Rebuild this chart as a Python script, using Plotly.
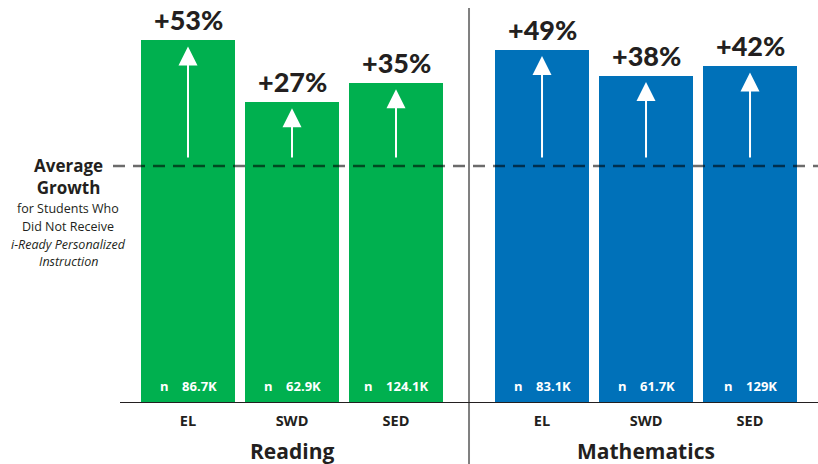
import plotly.graph_objects as go

# ---- data ----
subjects = ["Reading", "Mathematics"]
categories = ["EL", "SWD", "SED"]
reading_growth = [153, 127, 135]      # relative growth, average = 100
math_growth = [149, 138, 142]
reading_pct = ["+53%", "+27%", "+35%"]
math_pct = ["+49%", "+38%", "+42%"]
reading_n = ["86.7K", "62.9K", "124.1K"]
math_n = ["83.1K", "61.7K", "129K"]
average_growth = 100

GREEN = "#00b04f"
BLUE = "#0071b9"
DARK = "#231f20"

# layout constants
GROUP_GAP = 0.404          # extra spacing between groups (in bar-pitch units)
BAR_W = 0.904
PX_PER_UNIT_X = 104.0
PLOT_LEFT_PX = 120
FIG_W, FIG_H = 818, 464
PLOT_H = 403
Y_TOP = 170.04

groups = [
    (subjects[0], reading_growth, reading_pct, reading_n, GREEN),
    (subjects[1], math_growth, math_pct, math_n, BLUE),
]

fig = go.Figure()
tickvals, ticktext = [], []
annotations = []
shapes = []
group_centers = []
group_edges = []
for gi, (subj, vals, pcts, ns, color) in enumerate(groups):
    xs = [gi * (len(categories) + GROUP_GAP) + i for i in range(len(categories))]
    fig.add_trace(go.Bar(x=xs, y=vals, width=BAR_W, marker=dict(color=color, line=dict(width=0)),
                         hoverinfo="skip", showlegend=False))
    tickvals += xs
    ticktext += categories
    group_centers.append(sum(xs) / len(xs))
    group_edges.append((xs[0] - BAR_W / 2, xs[-1] + BAR_W / 2))
    for x, v, p, n in zip(xs, vals, pcts, ns):
        # percentage label above bar
        annotations.append(dict(x=x, y=v, xref="x", yref="y", text=p, showarrow=False,
                                yanchor="bottom", yshift=2,
                                font=dict(family="Lato", size=27, color=DARK, weight=900)))
        # n label inside bar bottom
        annotations.append(dict(x=x, y=0, xref="x", yref="y",
                                text="n\u00a0\u00a0\u00a0\u00a0" + n, showarrow=False,
                                yanchor="middle", yshift=17,
                                font=dict(family="Open Sans", size=13, color="white", weight=700)))
        # white growth arrow
        annotations.append(dict(x=x, y=v - 2.6, ax=x, ay=average_growth + 3, xref="x", yref="y",
                                axref="x", ayref="y", text="", showarrow=True,
                                arrowhead=2, arrowsize=1.9, arrowwidth=2, arrowcolor="white"))

# group titles
for subj, cx in zip(subjects, group_centers):
    annotations.append(dict(x=cx, y=0, xref="x", yref="paper", text="<b>" + subj + "</b>",
                            showarrow=False, yanchor="middle", yshift=-48,
                            font=dict(family="Open Sans", size=21, color=DARK)))

# left "Average Growth" label
left_lines = [
    ("<b>Average<br>Growth</b>", 17, "normal", -10),
    ("for Students Who", 12.5, "normal", -42),
    ("Did Not Receive", 12.5, "normal", -60),
    ("i-Ready Personalized", 12.5, "italic", -78),
    ("Instruction", 12.5, "italic", -95),
]
plot_w = FIG_W - PLOT_LEFT_PX
for txt, sz, style, dy in left_lines:
    annotations.append(dict(x=(68 - PLOT_LEFT_PX) / plot_w, y=average_growth, xref="paper", yref="y",
                            text=txt, showarrow=False, xanchor="center", yanchor="middle", yshift=dy,
                            font=dict(family="Open Sans", size=sz, color=DARK, style=style)))

x_left = tickvals[0] - (188 - PLOT_LEFT_PX) / PX_PER_UNIT_X
x_right = x_left + plot_w / PX_PER_UNIT_X

# baseline
shapes.append(dict(type="line", xref="paper", yref="y", x0=0, x1=1, y0=0, y1=0,
                   line=dict(color=DARK, width=2), layer="above"))
# dashed average line
shapes.append(dict(type="line", xref="paper", yref="y", x0=(113 - PLOT_LEFT_PX) / plot_w, x1=1,
                   y0=average_growth, y1=average_growth,
                   line=dict(color="rgba(0,0,0,0.58)", width=2.5, dash="12px,8px"), layer="above"))
# divider between groups
div_x = (group_edges[0][1] + group_edges[1][0]) / 2
shapes.append(dict(type="line", xref="x", yref="paper", x0=div_x, x1=div_x,
                   y0=(PLOT_H - FIG_H) / PLOT_H, y1=1 - 8 / PLOT_H,
                   line=dict(color="#808080", width=2), layer="below"))

fig.update_layout(
    width=FIG_W, height=FIG_H,
    margin=dict(l=PLOT_LEFT_PX, r=0, t=0, b=FIG_H - PLOT_H, autoexpand=False),
    paper_bgcolor="white", plot_bgcolor="white",
    xaxis=dict(range=[x_left, x_right], tickvals=tickvals, ticktext=ticktext,
               showgrid=False, zeroline=False, showline=False, ticks="",
               ticklabelstandoff=7,
               tickfont=dict(family="Open Sans", size=14.5, color=DARK, weight=700),
               fixedrange=True),
    yaxis=dict(range=[0, Y_TOP], visible=False, fixedrange=True),
    annotations=annotations, shapes=shapes, bargap=0,
)

fig.write_html("out.html", config={"displayModeBar": False},
               post_script="document.body.style.margin='0';document.body.style.overflow='hidden';")
